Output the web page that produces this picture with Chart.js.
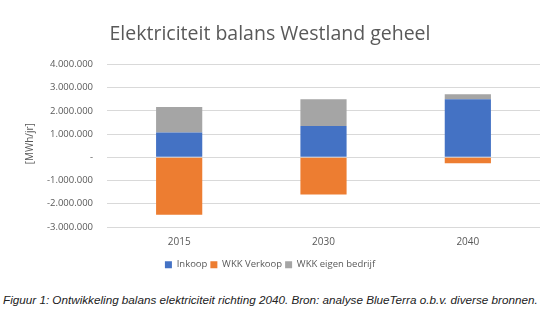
<!DOCTYPE html>
<html>
<head>
<meta charset="utf-8">
<script src="https://cdn.jsdelivr.net/npm/chart.js@4/dist/chart.umd.min.js"></script>
<style>
	body { margin: 0; background: #fff; }
	#wrap { position: relative; width: 540px; height: 325px; }
	#caption {
		position: absolute; left: 3px; top: 293px;
		font: italic 11.7px "Liberation Sans", Arial, sans-serif;
		color: #222; white-space: nowrap;
	}
</style>
</head>
<body>
<div id="wrap">
	<canvas id="myChart" width="540" height="285"></canvas>
	<div id="caption">Figuur 1: Ontwikkeling balans elektriciteit richting 2040. Bron: analyse BlueTerra o.b.v. diverse bronnen.</div>
</div>
<script>
const years = ["2015", "2030", "2040"];
const inkoop = [1070000, 1350000, 2500000];
const wkkVerkoop = [-2470000, -1600000, -260000];
const wkkEigen = [1100000, 1150000, 220000];
const yTitle = "[MWh/jr]";

function fmt(v) {
	if (v === 0) return "-";
	let s = String(Math.abs(v)).replace(/\B(?=(\d{3})+(?!\d))/g, ".");
	return (v < 0 ? "-" : "") + s;
}

let ctx = document.getElementById("myChart");
let txt = "#595959";

// y axis title, drawn by hand so it sits close to the tick labels
const axisTitle = {
	id: "axisTitle",
	afterDraw(chart) {
		let c = chart.ctx;
		let y = chart.scales.y;
		c.save();
		c.translate(y.right - 77, (y.top + y.bottom) / 2 - 2);
		c.rotate(-Math.PI / 2);
		c.textAlign = "center";
		c.textBaseline = "middle";
		c.fillStyle = txt;
		c.font = "10px 'Open Sans'";
		c.fillText(yTitle, 0, 0);
		c.restore();
	}
};

new Chart(ctx, {
	type: "bar",
	data: {
		labels: years,
		datasets: [{
			label: "Inkoop",
			data: inkoop,
			backgroundColor: "#4472c4"
		}, {
			label: "WKK Verkoop",
			data: wkkVerkoop,
			backgroundColor: "#ed7d31"
		}, {
			label: "WKK eigen bedrijf",
			data: wkkEigen,
			backgroundColor: "#a5a5a5"
		}]
	},
	options: {
		responsive: false,
		animation: false,
		layout: { padding: { left: 0, right: 0, top: 8, bottom: 5.5 } },
		datasets: { bar: { categoryPercentage: 1, barPercentage: 0.32 } },
		plugins: {
			title: {
				display: true,
				text: "Elektriciteit balans Westland geheel",
				color: txt,
				font: { family: "Open Sans", size: 19.5, weight: "normal" },
				padding: { top: 15, bottom: 18 }
			},
			legend: {
				position: "bottom",
				labels: {
					color: txt,
					boxWidth: 7,
					boxHeight: 7,
					padding: 3,
					font: { family: "Open Sans", size: 9.5 }
				}
			},
			tooltip: { enabled: false }
		},
		scales: {
			x: {
				stacked: true,
				grid: { display: false, drawTicks: false },
				border: { display: false },
				ticks: { color: txt, padding: 9, font: { family: "Open Sans", size: 10 } }
			},
			y: {
				stacked: true,
				min: -3000000,
				max: 4000000,
				grid: { color: "#d9d9d9", lineWidth: 1, drawTicks: false },
				border: { display: false },
				afterFit: s => { s.width = 107; },
				ticks: {
					stepSize: 1000000,
					color: txt,
					padding: 14,
					font: { family: "Open Sans", size: 9.5 },
					callback: v => fmt(v)
				}
			}
		}
	},
	plugins: [axisTitle]
});
</script>
</body>
</html>
